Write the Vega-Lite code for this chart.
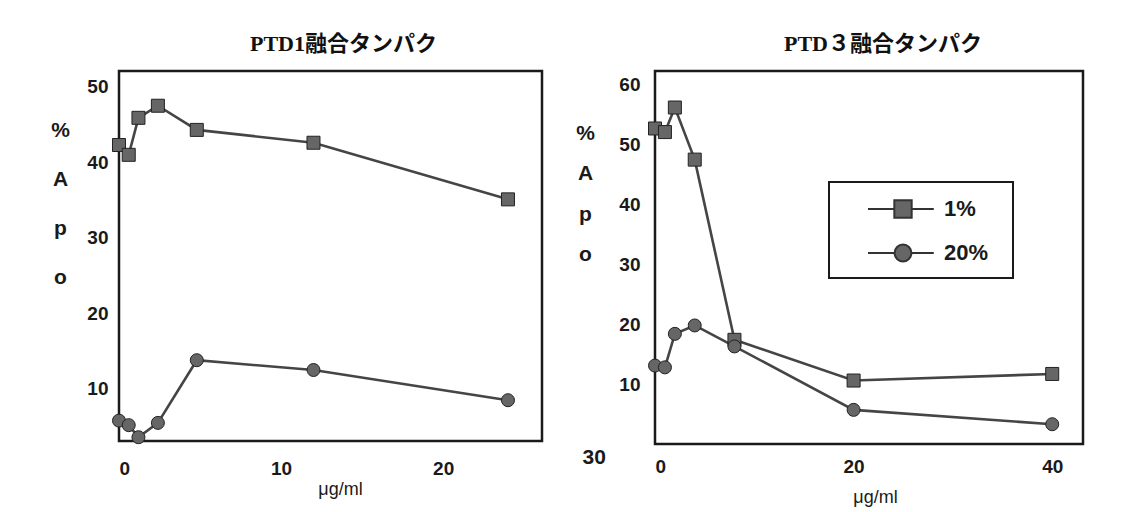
{
  "$schema": "https://vega.github.io/schema/vega-lite/v6.json",
  "background": "white",
  "autosize": {"type": "pad"},
  "padding": {"left": 49, "top": 31, "right": 0, "bottom": 0},
  "datasets": {
    "ptd1": [
      {"conc": 0, "apo": 42.3, "series": "1%"},
      {"conc": 0.6, "apo": 41.0, "series": "1%"},
      {"conc": 1.2, "apo": 45.9, "series": "1%"},
      {"conc": 2.4, "apo": 47.5, "series": "1%"},
      {"conc": 4.8, "apo": 44.3, "series": "1%"},
      {"conc": 12, "apo": 42.6, "series": "1%"},
      {"conc": 24, "apo": 35.1, "series": "1%"},
      {"conc": 0, "apo": 5.8, "series": "20%"},
      {"conc": 0.6, "apo": 5.2, "series": "20%"},
      {"conc": 1.2, "apo": 3.6, "series": "20%"},
      {"conc": 2.4, "apo": 5.5, "series": "20%"},
      {"conc": 4.8, "apo": 13.8, "series": "20%"},
      {"conc": 12, "apo": 12.5, "series": "20%"},
      {"conc": 24, "apo": 8.5, "series": "20%"}
    ],
    "ptd3": [
      {"conc": 0, "apo": 52.7, "series": "1%"},
      {"conc": 1, "apo": 52.1, "series": "1%"},
      {"conc": 2, "apo": 56.2, "series": "1%"},
      {"conc": 4, "apo": 47.5, "series": "1%"},
      {"conc": 8, "apo": 17.4, "series": "1%"},
      {"conc": 20, "apo": 10.6, "series": "1%"},
      {"conc": 40, "apo": 11.7, "series": "1%"},
      {"conc": 0, "apo": 13.1, "series": "20%"},
      {"conc": 1, "apo": 12.8, "series": "20%"},
      {"conc": 2, "apo": 18.4, "series": "20%"},
      {"conc": 4, "apo": 19.8, "series": "20%"},
      {"conc": 8, "apo": 16.3, "series": "20%"},
      {"conc": 20, "apo": 5.7, "series": "20%"},
      {"conc": 40, "apo": 3.3, "series": "20%"}
    ]
  },
  "config": {
    "view": {"stroke": "#1a1a1a", "strokeWidth": 2.5},
    "font": "Liberation Sans",
    "axis": {
      "grid": false, "domain": false, "ticks": false,
      "labelFont": "Liberation Sans", "labelFontSize": 19, "labelFontWeight": "bold", "labelColor": "#1a1a1a",
      "titleFont": "Liberation Sans", "titleColor": "#1a1a1a"
    },
    "legend": {"strokeWidth": 2},
    "title": {"font": "Liberation Serif, Noto Sans CJK JP", "fontSize": 22, "fontWeight": "bold", "color": "#111111"},
    "concat": {"spacing": 19}
  },
  "resolve": {
    "scale": {"shape": "independent", "color": "independent"},
    "legend": {"shape": "independent", "color": "independent"}
  },
  "hconcat": [
    {
      "width": 423,
      "height": 370,
      "title": {"text": "PTD1融合タンパク", "offset": 15, "dx": 13},
      "data": {"name": "ptd1"},
      "encoding": {
        "x": {"field": "conc", "type": "quantitative",
          "scale": {"domain": [0, 26.1], "nice": false, "zero": false},
          "axis": {"values": [0, 10, 20], "title": "μg/ml", "labelPadding": 18, "titlePadding": 2,
            "titleFontSize": 18, "titleFontWeight": "normal", "titleX": 221, "titleAlign": "center"}},
        "y": {"field": "apo", "type": "quantitative",
          "scale": {"domain": [3.1, 52.1], "nice": false, "zero": false},
          "axis": {"values": [10, 20, 30, 40, 50], "labelPadding": 11,
            "title": ["%", "A", "p", "o"], "titleAngle": 0, "titleAlign": "center", "titleBaseline": "top",
            "titleX": -59, "titleY": 48, "titleLineHeight": 49, "titleFontSize": 21, "titleFontWeight": "bold"}}
      },
      "layer": [
        {"mark": {"type": "line", "stroke": "#454545", "strokeWidth": 2.6},
         "encoding": {"detail": {"field": "series", "type": "nominal"}}},
        {"mark": {"type": "point", "filled": true, "fill": "#666666", "stroke": "#222222", "strokeWidth": 1, "size": 169, "opacity": 1},
         "encoding": {"shape": {"field": "series", "type": "nominal",
           "scale": {"domain": ["1%", "20%"], "range": ["square", "circle"]}, "legend": null}}}
      ]
    },
    {
      "width": 428,
      "height": 373,
      "title": {"text": "PTD３融合タンパク", "offset": 15, "dx": 14},
      "data": {"name": "ptd3"},
      "encoding": {
        "x": {"field": "conc", "type": "quantitative",
          "scale": {"domain": [0, 43.1], "nice": false, "zero": false},
          "axis": {"values": [0, 20, 40], "title": "μg/ml", "labelPadding": 13, "titlePadding": 12,
            "titleFontSize": 18, "titleFontWeight": "normal", "titleX": 220, "titleAlign": "center"}},
        "y": {"field": "apo", "type": "quantitative",
          "scale": {"domain": [0, 62.3], "nice": false, "zero": false},
          "axis": {"values": [10, 20, 30, 40, 50, 60], "labelPadding": 15,
            "title": ["%", "A", "p", "o", "\u200b\u00a0\u200b", "\u200b\u00a0\u200b", "\u200b\u00a0\u200b", "\u200b\u00a0\u200b", "\u200b\u00a0\u00a0\u00a030"], "titleAngle": 0, "titleAlign": "center", "titleBaseline": "top",
            "titleX": -70, "titleY": 51, "titleLineHeight": 40.5, "titleFontSize": 21, "titleFontWeight": "bold"}}
      },
      "layer": [
        {"mark": {"type": "line", "stroke": "#454545", "strokeWidth": 2.6},
         "encoding": {"detail": {"field": "series", "type": "nominal"}}},
        {"transform": [{"filter": "datum.series === '1%'"}],
         "mark": {"type": "point", "shape": "square", "filled": true, "stroke": "#222222", "strokeWidth": 1, "size": 169, "opacity": 1},
         "encoding": {
           "color": {"field": "series", "type": "nominal",
             "scale": {"domain": ["1%", "20%"], "range": ["#666666", "#666666"]},
             "legend": {"title": null, "orient": "none", "legendX": 174, "legendY": 111,
               "fillColor": "white", "strokeColor": "#1a1a1a", "padding": 12, "rowPadding": 16,
               "symbolSize": 784, "symbolOffset": 47, "labelOffset": 26,
               "symbolType": {"expr": "datum.value === '1%' ? 'M-2.5,0H-0.62M0.62,0H2.2M-0.62,-0.62H0.62V0.62H-0.62Z' : 'M-2.5,0H-0.6M0.6,0H2.2M-0.6,0A0.6,0.6,0,1,1,0.6,0A0.6,0.6,0,1,1,-0.6,0Z'"},
               "symbolStrokeColor": "#333333", "symbolStrokeWidth": 2, "symbolOpacity": 1,
               "labelFont": "Liberation Sans", "labelFontSize": 22, "labelFontWeight": "bold", "labelColor": "#1a1a1a",
               "labelExpr": "datum.label + '\u00a0\u00a0\u200b'"}}
         }},
        {"transform": [{"filter": "datum.series === '20%'"}],
         "mark": {"type": "point", "shape": "circle", "filled": true, "stroke": "#222222", "strokeWidth": 1, "size": 169, "opacity": 1},
         "encoding": {
           "color": {"field": "series", "type": "nominal",
             "scale": {"domain": ["1%", "20%"], "range": ["#666666", "#666666"]},
             "legend": {"title": null, "orient": "none", "legendX": 174, "legendY": 111,
               "fillColor": "white", "strokeColor": "#1a1a1a", "padding": 12, "rowPadding": 16,
               "symbolSize": 784, "symbolOffset": 47, "labelOffset": 26,
               "symbolType": {"expr": "datum.value === '1%' ? 'M-2.5,0H-0.62M0.62,0H2.2M-0.62,-0.62H0.62V0.62H-0.62Z' : 'M-2.5,0H-0.6M0.6,0H2.2M-0.6,0A0.6,0.6,0,1,1,0.6,0A0.6,0.6,0,1,1,-0.6,0Z'"},
               "symbolStrokeColor": "#333333", "symbolStrokeWidth": 2, "symbolOpacity": 1,
               "labelFont": "Liberation Sans", "labelFontSize": 22, "labelFontWeight": "bold", "labelColor": "#1a1a1a",
               "labelExpr": "datum.label + '\u00a0\u00a0\u200b'"}}
         }}
      ]
    }
  ]
}
